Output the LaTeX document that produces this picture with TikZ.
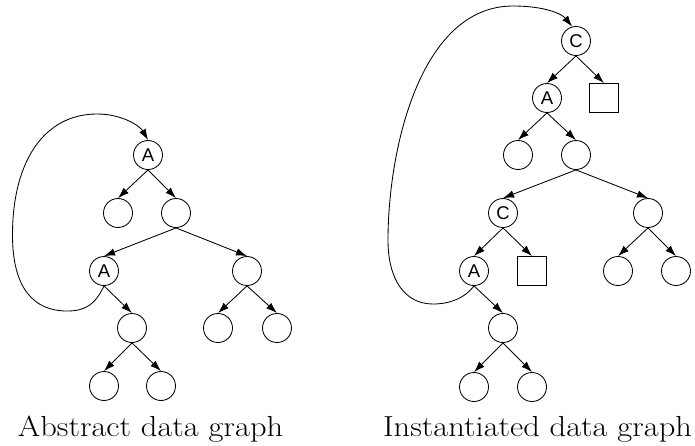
\documentclass[tikz,border=0pt]{standalone}
\usepackage{fontspec}
\newfontfamily\labelfont{Liberation Sans}
\usetikzlibrary{arrows.meta}

\begin{document}
\begin{tikzpicture}[x=1pt, y=-1pt, line width=0.85pt,
    >={Latex[length=11pt,width=7.5pt]},
    vert/.style={circle, draw, minimum size=29pt, inner sep=0pt,
      font=\labelfont\fontsize{18.5}{18.5}\selectfont},
    box/.style={rectangle, draw, minimum size=29pt, inner sep=0pt},
    caption/.style={anchor=base, xscale=1.12, font=\fontsize{29}{32}\selectfont}]
        \useasboundingbox (0,0) rectangle (695,445);

        % Grafo abstrato
        \node[vert] (a1) at (148,155) {A};
        \node[vert] (l1) at (118,213) {};
        \node[vert] (l2) at (176,213) {};
        \node[vert] (a2) at (104,271) {A};
        \node[vert] (l3) at (247,271) {};
        \node[vert] (l4) at (132,328) {};
        \node[vert] (l5) at (218,328) {};
        \node[vert] (l6) at (277,328) {};
        \node[vert] (l7) at (104,386) {};
        \node[vert] (l8) at (161,386) {};

        \foreach \p/\c in {a1/l1, a1/l2, l2/a2, l2/l3, a2/l4,
                           l3/l5, l3/l6, l4/l7, l4/l8}
            \draw[->] (\p.south) -- (\c.north);

        % Volta de A para A
        \draw[->] (a2.south) .. controls (95,305) and (85,311) .. (67,311)
            .. controls (35,311) and (12.5,290) .. (12.5,235)
            .. controls (12.5,160) and (45,114) .. (97,114)
            .. controls (122,114) and (140,126) .. (a1.north);

        \node[caption] (t1) at (150.5,436) {Abstract data graph};

        % Grafo instanciado
        \node[vert] (c1) at (576,41) {C};
        \node[vert] (a3) at (547,98) {A};
        \node[box]  (s1) at (604,98) {};
        \node[vert] (r1) at (518,155) {};
        \node[vert] (r2) at (576,155) {};
        \node[vert] (c2) at (503,213) {C};
        \node[vert] (r3) at (648,213) {};
        \node[vert] (a4) at (474,271) {A};
        \node[box]  (s2) at (532,271) {};
        \node[vert] (r4) at (618,271) {};
        \node[vert] (r5) at (676,271) {};
        \node[vert] (r6) at (503,328) {};
        \node[vert] (r7) at (474,387) {};
        \node[vert] (r8) at (532,387) {};

        \foreach \p/\c in {c1/a3, c1/s1, a3/r1, a3/r2, r2/c2, r2/r3, c2/a4,
                           c2/s2, r3/r4, r3/r5, a4/r6, r6/r7, r6/r8}
            \draw[->] (\p.south) -- (\c.north);

        % Volta de A para C
        \draw[->] (a4.south) .. controls (465,298) and (450,304) .. (433,304)
            .. controls (405,304) and (388,280) .. (388,240)
            .. controls (388,150) and (420,6) .. (513,6)
            .. controls (545,6) and (562,14) .. (c1.105);

        \node[caption] (t2) at (537.5,436) {Instantiated data graph};
    \end{tikzpicture}
\end{document}
